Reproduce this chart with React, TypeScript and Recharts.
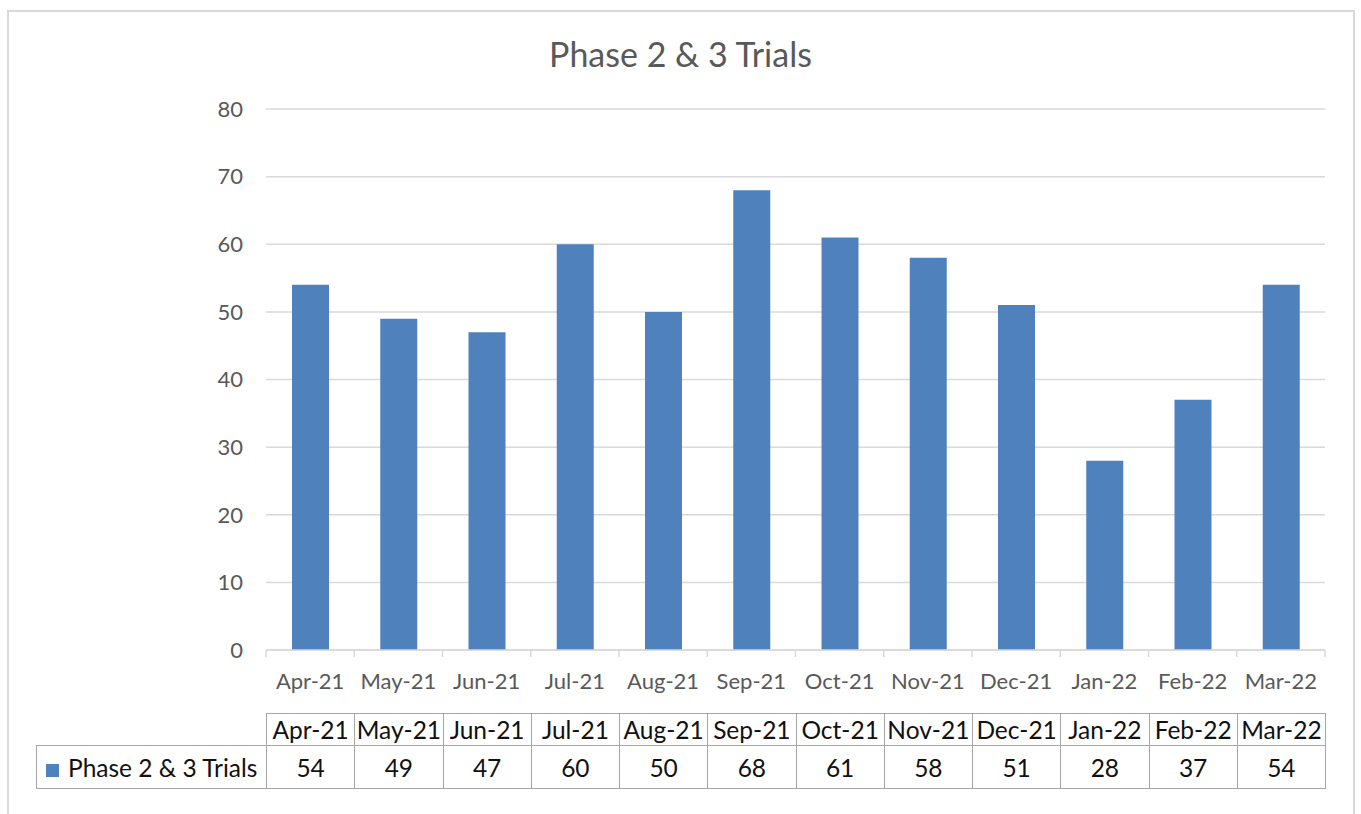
import { BarChart, Bar, XAxis, YAxis, CartesianGrid } from 'recharts';

const months = ['Apr-21', 'May-21', 'Jun-21', 'Jul-21', 'Aug-21', 'Sep-21', 'Oct-21', 'Nov-21', 'Dec-21', 'Jan-22', 'Feb-22', 'Mar-22'];
const trials = [54, 49, 47, 60, 50, 68, 61, 58, 51, 28, 37, 54];
const yTicks = [0, 10, 20, 30, 40, 50, 60, 70, 80];
const seriesName = 'Phase 2 & 3 Trials';

const BLUE = '#4f81bd';
const GRID = '#d9d9d9';
const AXIS_TEXT = '#595959';
const FONT = 'Lato, Calibri, sans-serif';

const data = months.map((m, i) => ({ month: m, value: trials[i] }));

// category label plus Excel-style tick marks on the band edges
const MonthTick = (props: any) => {
    const { x, y, payload, index, visibleTicksCount } = props;
    const half = payload.offset || 0;
    const last = index === visibleTicksCount - 1;
    return (
        <g>
            <line x1={x - half} y1={y} x2={x - half} y2={y + 7} stroke={GRID} strokeWidth={1.5} />
            {last && <line x1={x + half} y1={y} x2={x + half} y2={y + 7} stroke={GRID} strokeWidth={1.5} />}
            <text x={x} y={y + 39} textAnchor="middle" fill={AXIS_TEXT} fontSize={22} fontFamily={FONT}>
                {payload.value}
            </text>
        </g>
    );
};

const cell = {
    border: '1.5px solid #a6a6a6',
    textAlign: 'center' as const,
    padding: 0,
    fontSize: 24.5,
    color: '#111',
    fontFamily: FONT,
};

export default function App() {
    return (
        <div style={{ position: 'absolute', left: 0, top: 0, width: 1361, height: 814, background: '#fff', overflow: 'hidden' }}>
            <div style={{ position: 'absolute', left: 7, top: 10, width: 1344, height: 830, border: `2px solid ${GRID}` }} />
            <div style={{ position: 'absolute', left: 0, top: 33, width: 1361, textAlign: 'center', fontFamily: FONT, fontSize: 34, color: AXIS_TEXT }}>
                {seriesName}
            </div>
            <div style={{ position: 'absolute', left: 0, top: 0 }}>
                <BarChart width={1361} height={700} data={data} margin={{ top: 109, right: 36, bottom: 10, left: 216 }}>
                    <CartesianGrid vertical={false} stroke={GRID} strokeWidth={1.5} />
                    <XAxis
                        dataKey="month"
                        height={40}
                        tickSize={0}
                        tickMargin={0}
                        axisLine={{ stroke: GRID, strokeWidth: 1.5 }}
                        tickLine={false}
                        tick={<MonthTick />}
                        interval={0}
                    />
                    <YAxis
                        width={50}
                        domain={[0, 80]}
                        ticks={yTicks}
                        axisLine={false}
                        tickLine={false}
                        tickSize={0}
                        tickMargin={23}
                        tick={{ fill: AXIS_TEXT, fontSize: 22, fontFamily: FONT }}
                    />
                    <Bar dataKey="value" fill={BLUE} barSize={37} isAnimationActive={false} />
                </BarChart>
            </div>
            <table style={{ position: 'absolute', left: 36, top: 713, borderCollapse: 'collapse', tableLayout: 'fixed', width: 1289 }}>
                <colgroup>
                    <col style={{ width: 230 }} />
                    {months.map((m) => <col key={m} style={{ width: 88.25 }} />)}
                </colgroup>
                <tbody>
                    <tr style={{ height: 32 }}>
                        <td style={{ ...cell, border: 'none', borderBottom: cell.border }} />
                        {months.map((m) => <td key={m} style={{ ...cell, lineHeight: '30px' }}>{m}</td>)}
                    </tr>
                    <tr style={{ height: 43 }}>
                        <td style={{ ...cell, textAlign: 'left', paddingLeft: 9, whiteSpace: 'nowrap' }}>
                            <span style={{ display: 'inline-block', width: 13, height: 13, background: BLUE, marginRight: 9 }} />
                            {seriesName}
                        </td>
                        {trials.map((v, i) => <td key={months[i]} style={cell}>{v}</td>)}
                    </tr>
                </tbody>
            </table>
        </div>
    );
}
